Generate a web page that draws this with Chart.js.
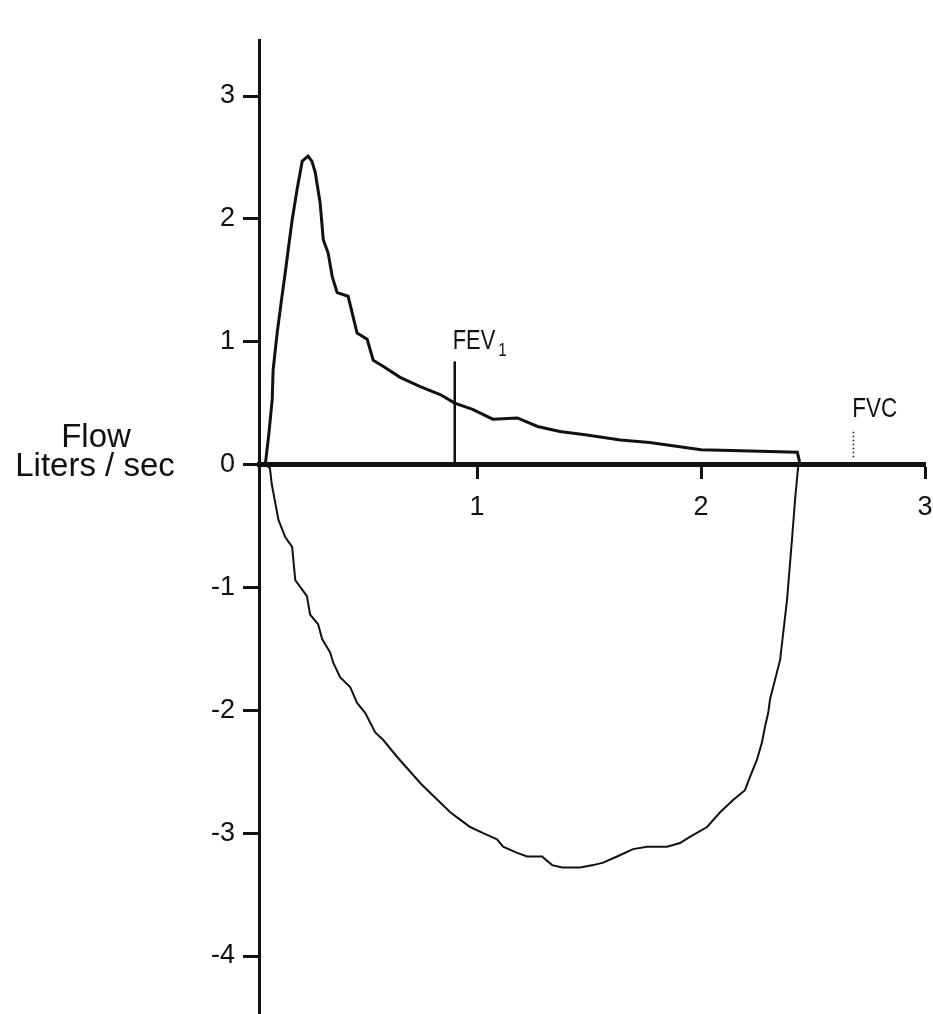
<!DOCTYPE html>
<html>
<head>
<meta charset="utf-8">
<script src="https://cdn.jsdelivr.net/npm/chart.js@4.4.0/dist/chart.umd.min.js"></script>
<style>
  html, body { margin: 0; padding: 0; background: #fff; }
  #wrap { width: 933px; height: 1014px; }
</style>
</head>
<body>
<div id="wrap"><canvas id="loopChart" width="933" height="1014"></canvas></div>
<script>
// Flow-volume loop, volume in liters (x) against flow in liters/sec (y)

// expiration (upper part of the loop)
const expVolume = [0.054, 0.07, 0.085, 0.089, 0.107, 0.125, 0.143, 0.16, 0.174, 0.196, 0.219, 0.245,
  0.262, 0.277, 0.299, 0.313, 0.335, 0.353, 0.375, 0.424, 0.464, 0.509, 0.536, 0.58, 0.656, 0.746,
  0.835, 0.90, 0.98, 1.07, 1.18, 1.27, 1.37, 1.49, 1.64, 1.77, 2.0, 2.22, 2.43, 2.44];
const expFlow = [0.0, 0.25, 0.53, 0.77, 1.07, 1.32, 1.56, 1.80, 1.99, 2.24, 2.47, 2.51,
  2.47, 2.38, 2.13, 1.83, 1.72, 1.53, 1.40, 1.37, 1.07, 1.02, 0.85, 0.80, 0.71, 0.635,
  0.57, 0.50, 0.45, 0.37, 0.38, 0.31, 0.27, 0.24, 0.20, 0.18, 0.12, 0.11, 0.10, 0.02];

// inspiration (lower part of the loop)
const inspVolume = [0.054, 0.075, 0.083, 0.113, 0.143, 0.174, 0.188, 0.24, 0.254, 0.29, 0.308, 0.344,
  0.357, 0.388, 0.433, 0.464, 0.50, 0.545, 0.58, 0.643, 0.75, 0.88, 0.924, 0.969, 1.027, 1.089,
  1.116, 1.179, 1.223, 1.29, 1.335, 1.38, 1.46, 1.518, 1.563, 1.625, 1.696, 1.759, 1.848, 1.906,
  1.95, 2.027, 2.085, 2.143, 2.196, 2.219, 2.25, 2.272, 2.286, 2.30, 2.308, 2.353, 2.384, 2.406,
  2.42, 2.433, 2.44];
const inspFlow = [0.0, -0.03, -0.16, -0.45, -0.59, -0.67, -0.94, -1.07, -1.22, -1.30, -1.42, -1.53,
  -1.61, -1.73, -1.81, -1.94, -2.02, -2.18, -2.24, -2.38, -2.6, -2.83, -2.89, -2.95, -3.00, -3.05,
  -3.11, -3.16, -3.19, -3.19, -3.26, -3.28, -3.28, -3.26, -3.24, -3.19, -3.13, -3.11, -3.11, -3.08,
  -3.03, -2.95, -2.83, -2.73, -2.65, -2.54, -2.40, -2.26, -2.13, -2.02, -1.91, -1.59, -1.10, -0.61,
  -0.28, -0.03, 0.02];

// markers
const fev1Volume = 0.90;
const fev1Flow = [0, 0.84];
const fvcVolume = 2.68;
const fvcFlow = [0.06, 0.27];

// axes
const xTickValues = [1, 2, 3];
const yTickValues = [-4, -3, -2, -1, 0, 1, 2, 3];
const xMin = 0.026, xMax = 3;
const yMin = -4.472, yMax = 3.456;

const ink = '#111';
const tickFont = { family: '"Liberation Sans", Arial, sans-serif', size: 27 };
const labelFamily = '"Liberation Sans", Arial, sans-serif';

function toPoints(xs, ys) {
  return xs.map((x, i) => ({ x: x, y: ys[i] }));
}

// draw text squeezed horizontally (the original uses a condensed face)
function narrowText(ctx, text, x, y, size, squeeze) {
  ctx.save();
  ctx.font = size + 'px ' + labelFamily;
  ctx.translate(x, y);
  ctx.scale(squeeze, 1);
  ctx.fillText(text, 0, 0);
  const w = ctx.measureText(text).width * squeeze;
  ctx.restore();
  return w;
}

// text labels: axis title and the FEV1 / FVC markers
const labelPlugin = {
  id: 'labels',
  afterDraw(chart) {
    const ctx = chart.ctx;
    const xs = chart.scales.x, ys = chart.scales.y;
    ctx.save();
    ctx.fillStyle = ink;
    ctx.textBaseline = 'alphabetic';

    ctx.textAlign = 'center';
    ctx.font = '33px ' + labelFamily;
    ctx.fillText('Flow', 96, 447);
    ctx.fillText('Liters / sec', 95, 476);

    ctx.textAlign = 'left';
    const fx = xs.getPixelForValue(fev1Volume) - 2;
    const fy = ys.getPixelForValue(fev1Flow[1]) - 12;
    const w = narrowText(ctx, 'FEV', fx, fy, 28, 0.78);
    narrowText(ctx, '1', fx + w + 3, fy + 7, 18, 0.85);

    narrowText(ctx, 'FVC', xs.getPixelForValue(fvcVolume) - 1, ys.getPixelForValue(fvcFlow[1]) - 14, 28, 0.8);
    ctx.restore();
  }
};

const ctx = document.getElementById('loopChart').getContext('2d');
const loopChart = new Chart(ctx, {
  type: 'scatter',
  data: {
    datasets: [{
      label: 'Expiration',
      data: toPoints(expVolume, expFlow),
      showLine: true,
      borderColor: ink,
      borderWidth: 3,
      pointRadius: 0,
      tension: 0
    }, {
      label: 'Inspiration',
      data: toPoints(inspVolume, inspFlow),
      showLine: true,
      borderColor: ink,
      borderWidth: 2,
      pointRadius: 0,
      tension: 0
    }, {
      label: 'FEV1',
      data: toPoints([fev1Volume, fev1Volume], fev1Flow),
      showLine: true,
      borderColor: ink,
      borderWidth: 2.5,
      pointRadius: 0
    }, {
      label: 'FVC',
      data: toPoints([fvcVolume, fvcVolume], fvcFlow),
      showLine: true,
      borderColor: ink,
      borderWidth: 1.5,
      borderDash: [1.5, 2.5],
      pointRadius: 0
    }]
  },
  options: {
    responsive: false,
    devicePixelRatio: 1,
    animation: false,
    layout: { padding: { left: 0, right: 8, top: 40, bottom: 0 } },
    plugins: {
      legend: { display: false },
      tooltip: { enabled: false }
    },
    scales: {
      x: {
        type: 'linear',
        min: xMin,
        max: xMax,
        position: { y: 0 },
        border: { color: ink, width: 5 },
        grid: { drawOnChartArea: false, drawTicks: true, tickLength: 12, tickWidth: 3, tickColor: ink },
        ticks: { color: ink, font: tickFont, padding: 15 },
        afterBuildTicks: axis => { axis.ticks = xTickValues.map(v => ({ value: v })); },
        afterFit: axis => {
          axis.height = 0;
          axis.paddingLeft = 0;
          axis.paddingRight = 0;
        }
      },
      y: {
        type: 'linear',
        min: yMin,
        max: yMax,
        position: 'left',
        border: { color: ink, width: 3 },
        grid: { drawOnChartArea: false, drawTicks: true, tickLength: 16, tickWidth: 3, tickColor: ink },
        ticks: { color: ink, font: tickFont, padding: 8 },
        afterBuildTicks: axis => { axis.ticks = yTickValues.map(v => ({ value: v })); },
        afterFit: axis => {
          axis.width = 259;
          axis.paddingTop = 0;
          axis.paddingBottom = 0;
        }
      }
    }
  },
  plugins: [labelPlugin]
});
</script>
</body>
</html>
